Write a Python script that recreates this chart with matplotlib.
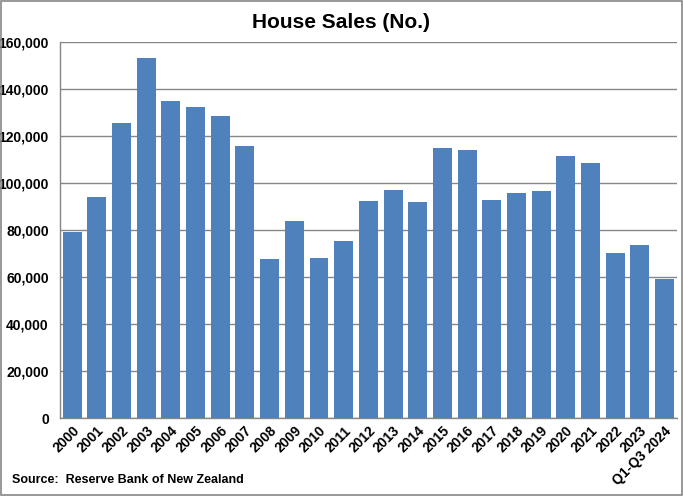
import matplotlib

matplotlib.use("Agg")

import matplotlib.pyplot as plt
from matplotlib.patches import Rectangle
from matplotlib.ticker import FuncFormatter

# Ventas de viviendas (numero), lectura aproximada del grafico
years = [
    "2000", "2001", "2002", "2003", "2004", "2005", "2006", "2007", "2008",
    "2009", "2010", "2011", "2012", "2013", "2014", "2015", "2016", "2017",
    "2018", "2019", "2020", "2021", "2022", "2023", "Q1-Q3 2024",
]
sales = [
    79300, 94200, 125700, 153300, 135000, 132500, 128600, 115900, 67800,
    84000, 68200, 75400, 92500, 97100, 92000, 115000, 114200, 92900,
    95900, 96700, 111600, 108600, 70300, 73700, 59300,
]
y_ticks = [0, 20000, 40000, 60000, 80000, 100000, 120000, 140000, 160000]

plt.rcParams["font.family"] = ["Liberation Sans", "DejaVu Sans"]
plt.rcParams["font.weight"] = "bold"

fig = plt.figure(figsize=(6.83, 4.96), dpi=100)
ax = fig.add_axes([0.0878, 0.1567, 0.903, 0.758])

ax.bar(range(len(years)), sales, width=0.77, color="#4f81bd", zorder=3)

ax.set_xlim(-0.5, len(years) - 0.5)
ax.set_ylim(0, 160000)
ax.set_yticks(y_ticks)
ax.yaxis.set_major_formatter(FuncFormatter(lambda v, p: f"{int(v):,}"))
ax.set_xticks(range(len(years)))
ax.set_xticklabels(years, rotation=45, ha="right", rotation_mode="anchor")

ax.grid(axis="y", color="#868686", linewidth=1.0, zorder=0)
for side in ["top", "right"]:
    ax.spines[side].set_visible(False)
for side in ["left", "bottom"]:
    ax.spines[side].set_color("#868686")
    ax.spines[side].set_linewidth(1.0)
ax.tick_params(axis="both", length=0, labelsize=10)
ax.tick_params(axis="y", pad=8)
ax.tick_params(axis="x", pad=4)

fig.text(0.5, 0.955, "House Sales (No.)", ha="center", va="center",
         fontsize=15, fontweight="bold")
fig.text(0.018, 0.032, "Source:  Reserve Bank of New Zealand", ha="left",
         va="center", fontsize=9, fontweight="bold")

# Borde del grafico
fig.patches.append(Rectangle((0.002, 0.002), 0.996, 0.996, transform=fig.transFigure,
                             fill=False, edgecolor="#868686", linewidth=1.2))

fig.savefig("out.png", dpi=100)
